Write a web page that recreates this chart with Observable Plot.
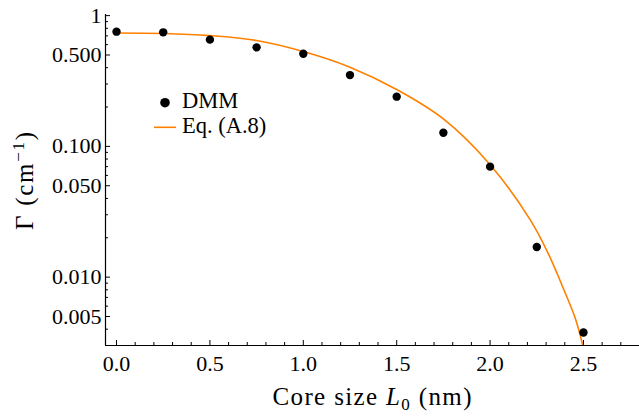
<!DOCTYPE html>
<html>
<head>
<meta charset="utf-8">
<script src="https://cdn.jsdelivr.net/npm/d3@7"></script>
<script src="https://cdn.jsdelivr.net/npm/@observablehq/plot@0.6"></script>
<style>
  html, body { margin: 0; padding: 0; background: #fff; }
  #chart { width: 639px; height: 416px; }
  #chart svg { display: block; }
</style>
</head>
<body>
<div id="chart"></div>
<script>
// ---- data ----
const dmmL = [0, 0.25, 0.5, 0.75, 1.0, 1.25, 1.5, 1.75, 2.0, 2.25, 2.5];
const dmmGamma = [0.754, 0.745, 0.655, 0.572, 0.511, 0.351, 0.240, 0.127, 0.070, 0.0170, 0.00377];

const eqL = [0, 0.25, 0.5, 0.75, 1.0, 1.25, 1.5, 1.75, 2.0, 2.216, 2.311, 2.386, 2.457, 2.496];
const eqGamma = [0.736, 0.730, 0.703, 0.645, 0.531, 0.403, 0.272, 0.162, 0.0724, 0.0273, 0.0152, 0.0086, 0.0048, 0.0030];

const seriesNames = ["DMM", "Eq. (A.8)"];

const xDomain = [-0.059, 2.8];
const yDomain = [0.003, 1.02];

const xMajorTicks = [0, 0.5, 1.0, 1.5, 2.0, 2.5];
const xMajorLabels = ["0.0", "0.5", "1.0", "1.5", "2.0", "2.5"];
const xMinorTicks = [0.1, 0.2, 0.3, 0.4, 0.6, 0.7, 0.8, 0.9, 1.1, 1.2, 1.3, 1.4, 1.6, 1.7, 1.8, 1.9,
                     2.1, 2.2, 2.3, 2.4, 2.6, 2.7];

const yMajorTicks = [1, 0.5, 0.1, 0.05, 0.01, 0.005];
const yMajorLabels = ["1", "0.500", "0.100", "0.050", "0.010", "0.005"];
const yMinorTicks = [0.9, 0.8, 0.7, 0.6, 0.4, 0.3, 0.2,
                     0.09, 0.08, 0.07, 0.06, 0.04, 0.03, 0.02,
                     0.009, 0.008, 0.007, 0.006, 0.004];

// ---- tables built from the arrays ----
const dmm = dmmL.map((L, i) => ({L, G: dmmGamma[i]}));
const eq = eqL.map((L, i) => ({L, G: eqGamma[i]}));
const xLabels = xMajorTicks.map((t, i) => ({t, s: xMajorLabels[i]}));
const yLabels = yMajorTicks.map((t, i) => ({t, s: yMajorLabels[i]}));

const ORANGE = "#ff8000";
const FONT = "'Liberation Serif', 'Times New Roman', Times, serif";

const chart = Plot.plot({
  width: 639,
  height: 416,
  marginLeft: 105,
  marginRight: 0,
  marginTop: 14,
  marginBottom: 71,
  style: {fontFamily: FONT, fontSize: "22px", color: "#000", background: "#fff", overflow: "visible"},
  x: {domain: xDomain},
  y: {type: "log", domain: yDomain},
  marks: [
    // ticks (inward)
    Plot.axisX(xMinorTicks, {tickSize: -3, tickFormat: () => "", label: null, stroke: "#000"}),
    Plot.axisX(xMajorTicks, {tickSize: -5, tickFormat: () => "", label: null, stroke: "#000"}),
    Plot.axisY(yMinorTicks, {tickSize: -3, tickFormat: () => "", label: null, stroke: "#000"}),
    Plot.axisY(yMajorTicks, {tickSize: -5, tickFormat: () => "", label: null, stroke: "#000"}),
    // tick labels
    Plot.text(xLabels, {x: "t", text: "s", frameAnchor: "bottom", lineAnchor: "top", dy: 10,
                        fontSize: 22, fill: "#000", textAnchor: "middle"}),
    Plot.text(yLabels, {y: "t", text: "s", frameAnchor: "left", dx: -4,
                        fontSize: 22, fill: "#000", textAnchor: "end"}),
    // axis lines
    Plot.ruleX([xDomain[0]], {stroke: "#000", strokeWidth: 1.2}),
    Plot.ruleY([yDomain[0]], {stroke: "#000", strokeWidth: 1.2}),
    // data
    Plot.line(eq, {x: "L", y: "G", stroke: ORANGE, strokeWidth: 1.6, curve: "catmull-rom", clip: true}),
    Plot.dot(dmm, {x: "L", y: "G", r: 4.2, fill: "#000", stroke: "none"})
  ]
});

document.getElementById("chart").appendChild(chart);

// ---- axis titles and legend ----
const svg = d3.select(chart);
svg.style("font-family", FONT);

// x title
const xt = svg.append("text")
  .attr("x", 372).attr("y", 405)
  .attr("text-anchor", "middle")
  .attr("fill", "#000")
  .style("font-size", "25px")
  .attr("textLength", 199).attr("lengthAdjust", "spacing");
xt.append("tspan").text("Core size ");
xt.append("tspan").attr("font-style", "italic").text("L");
xt.append("tspan").attr("dy", 5).style("font-size", "17px").text("0");
xt.append("tspan").attr("dy", -5).text(" (nm)");

// y title
const yt = svg.append("text")
  .attr("transform", "translate(33,181) rotate(-90)")
  .attr("text-anchor", "middle")
  .attr("fill", "#000")
  .style("font-size", "25px")
  .attr("textLength", 98).attr("lengthAdjust", "spacing");
yt.append("tspan").text("Γ (cm");
yt.append("tspan").attr("dy", -9).style("font-size", "17px").text("−1");
yt.append("tspan").attr("dy", 9).text(")");

// legend
const lg = svg.append("g").style("font-size", "22.5px").attr("text-anchor", "start");
lg.append("circle").attr("cx", 165).attr("cy", 102.7).attr("r", 4.8).attr("fill", "#000");
lg.append("text").attr("x", 182).attr("y", 107.5).attr("fill", "#000").attr("text-anchor", "start").text(seriesNames[0]);
lg.append("line").attr("x1", 154).attr("x2", 176).attr("y1", 127.3).attr("y2", 127.3)
  .attr("stroke", ORANGE).attr("stroke-width", 1.6);
lg.append("text").attr("x", 182).attr("y", 132.5).attr("fill", "#000").attr("text-anchor", "start").text(seriesNames[1]);
</script>
</body>
</html>
